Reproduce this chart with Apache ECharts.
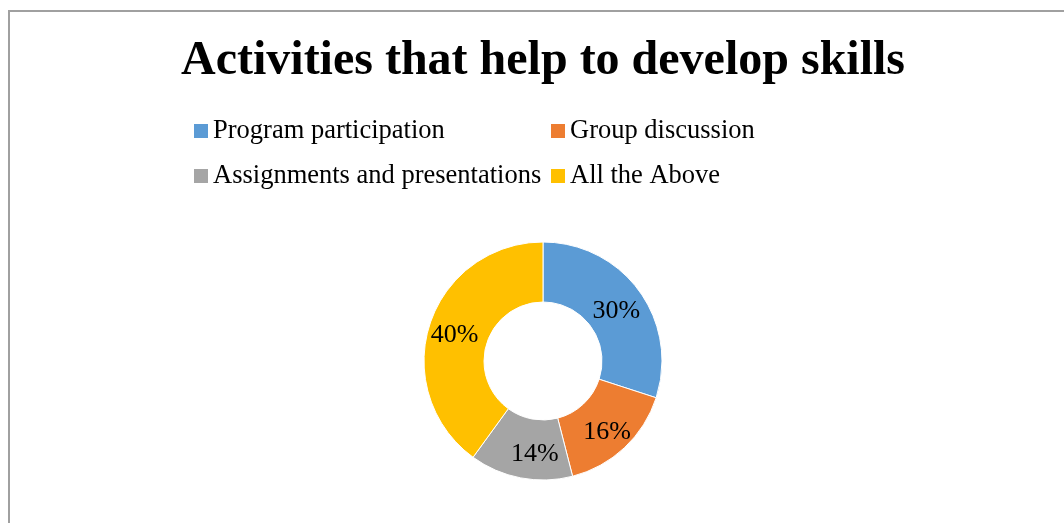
<!DOCTYPE html>
<html>
<head>
<meta charset="utf-8">
<script src="https://cdn.jsdelivr.net/npm/echarts@6/dist/echarts.min.js"></script>
<style>
  html, body { margin: 0; padding: 0; background: #fff; }
  #chart { width: 1064px; height: 523px; }
</style>
</head>
<body>
<div id="chart"></div>
<script>
// Survey answers: which activities help students develop skills
const categories = ['Program participation', 'Group discussion', 'Assignments and presentations', 'All the Above'];
const shares = [30, 16, 14, 40];
const sliceColors = ['#5B9BD5', '#ED7D31', '#A5A5A5', '#FFC000'];

const serif = '"Liberation Serif", "Times New Roman", serif';

// Legend laid out as a 2x2 grid: one legend block per entry
const legendSlots = [
  { left: 194, top: 117.5 },
  { left: 551, top: 117.5 },
  { left: 194, top: 162.5 },
  { left: 551, top: 162.5 }
];

// Small nudges so each percentage sits where it reads best inside its slice
const labelNudges = [[-1, 4], [1, 4], [9, 3], [-1, 3]];

const chart = echarts.init(document.getElementById('chart'), null, { renderer: 'canvas' });

chart.setOption({
  backgroundColor: '#ffffff',
  animation: false,
  color: sliceColors,
  title: {
    text: 'Activities that help to develop skills',
    left: 181,
    top: 38,
    padding: 0,
    textStyle: { fontFamily: serif, fontWeight: 'bold', fontSize: 48, color: '#000' }
  },
  legend: categories.map((name, i) => ({
    data: [name],
    left: legendSlots[i].left,
    top: legendSlots[i].top,
    icon: 'rect',
    itemWidth: 14,
    itemHeight: 14,
    padding: 0,
    selectedMode: false,
    itemStyle: { borderWidth: 0 },
    textStyle: { fontFamily: serif, fontSize: 26.5, color: '#000' }
  })),
  graphic: [{
    type: 'rect',
    shape: { x: 9, y: 11, width: 1200, height: 700 },
    style: { fill: 'none', stroke: '#a0a0a0', lineWidth: 2 },
    silent: true,
    z: -1
  }],
  series: [{
    type: 'pie',
    center: [543, 361],
    radius: [59, 119],
    startAngle: 90,
    clockwise: true,
    avoidLabelOverlap: false,
    itemStyle: { borderColor: '#fff', borderWidth: 1 },
    label: {
      show: true,
      position: 'inside',
      formatter: '{c}%',
      fontFamily: serif,
      fontSize: 26,
      color: '#000'
    },
    labelLine: { show: false },
    emphasis: { disabled: true },
    data: categories.map((name, i) => ({
      name,
      value: shares[i],
      label: { offset: labelNudges[i] }
    }))
  }]
});
</script>
</body>
</html>
